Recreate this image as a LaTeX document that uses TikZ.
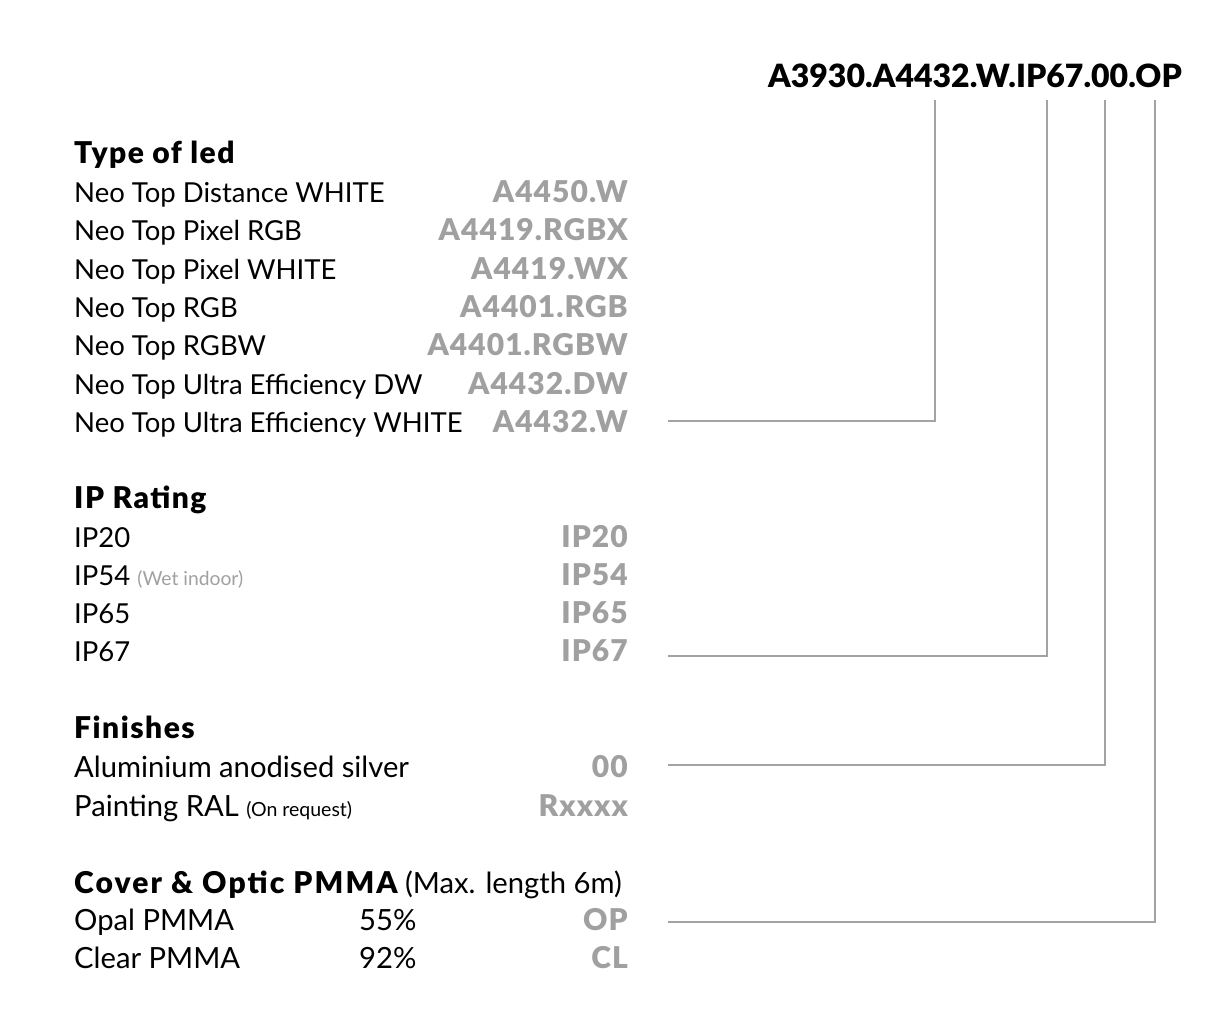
\documentclass[tikz,border=0pt]{standalone}
\usepackage{fontspec}
\setmainfont{Lato}[BoldFont={Lato Black}]
\newfontfamily\headfont{Lato Black}[LetterSpace=5]
\newfontfamily\coverfont{Lato Black}[LetterSpace=7]
\newfontfamily\codefont{Lato Black}[LetterSpace=3.5]
\definecolor{codegray}{HTML}{A0A0A0}
\definecolor{linegray}{HTML}{A3A3A3}
\begin{document}
\begin{tikzpicture}[x=1pt,y=-1pt,
  lbl/.style={anchor=base west,inner sep=0pt,font=\fontsize{27.5}{34}\selectfont},
  lblb/.style={anchor=base west,inner sep=0pt,font=\fontsize{29.2}{34}\selectfont},
  head/.style={anchor=base west,inner sep=0pt,font=\fontsize{30}{34}\headfont},
  code/.style={anchor=base east,inner sep=0pt,text=codegray,font=\fontsize{30}{34}\codefont},
  conn/.style={draw=linegray,line width=2pt}]
\useasboundingbox (0,0) rectangle (1216,1026);
% title code
\node[anchor=base east,inner sep=0pt,font=\fontsize{32}{36}\selectfont\bfseries] (title) at (1182,87) {A3930.A4432.W.IP67.00.OP};
\coordinate (t1) at (935,100);
\coordinate (t2) at (1047,100);
\coordinate (t3) at (1105,100);
\coordinate (t4) at (1155,100);
% Type of led
\node[head] (h1) at (74,163) {Type of led};
\node[lbl] (l1) at (74,202) {Neo Top Distance WHITE};
\node[lbl] (l2) at (74,240) {Neo Top Pixel RGB};
\node[lbl] (l3) at (74,279) {Neo Top Pixel WHITE};
\node[lbl] (l4) at (74,317) {Neo Top RGB};
\node[lbl] (l5) at (74,355) {Neo Top RGBW};
\node[lbl] (l6) at (74,394) {Neo Top Ultra Efficiency DW};
\node[lbl] (l7) at (74,432) {Neo Top Ultra Efficiency WHITE};
\node[code] (c1) at (628,202) {A4450.W};
\node[code] (c2) at (628,240) {A4419.RGBX};
\node[code] (c3) at (628,279) {A4419.WX};
\node[code] (c4) at (628,317) {A4401.RGB};
\node[code] (c5) at (628,355) {A4401.RGBW};
\node[code] (c6) at (628,394) {A4432.DW};
\node[code] (c7) at (628,432) {A4432.W};
% IP Rating
\node[head] (h2) at (74,508) {IP Rating};
\node[lbl] (i1) at (74,547) {IP20};
\node[lbl] (i2) at (74,585) {IP54 {\fontsize{19.3}{22}\selectfont\color{codegray}(Wet indoor)}};
\node[lbl] (i3) at (74,623) {IP65};
\node[lbl] (i4) at (74,661) {IP67};
\node[code] (p1) at (628,547) {IP20};
\node[code] (p2) at (628,585) {IP54};
\node[code] (p3) at (628,623) {IP65};
\node[code] (p4) at (628,661) {IP67};
% Finishes
\node[head] (h3) at (74,738) {Finishes};
\node[lblb] (f1) at (74,777) {Aluminium anodised silver};
\node[lblb] (f2) at (74,816) {Painting RAL {\fontsize{19.5}{22}\selectfont(On request)}};
\node[code] (g1) at (628,777) {00};
\node[code] (g2) at (628,816) {Rxxxx};
% Cover
\node[lblb] (h4) at (74,893) {{\fontsize{30}{34}\coverfont Cover \& Optic PMMA} (Max. length 6m)};
\node[lblb] (o1) at (74,930) {Opal PMMA};
\node[lblb] (o2) at (74,968) {Clear PMMA};
\node[lblb] (q1) at (359,930) {55\%};
\node[lblb] (q2) at (359,968) {92\%};
\node[code] (r1) at (628,930) {OP};
\node[code] (r2) at (628,968) {CL};
% connectors
\coordinate (s1) at (668,421);
\coordinate (s2) at (668,656);
\coordinate (s3) at (668,765);
\coordinate (s4) at (668,922);
\draw[conn] (s1) -| (t1);
\draw[conn] (s2) -| (t2);
\draw[conn] (s3) -| (t3);
\draw[conn] (s4) -| (t4);
\end{tikzpicture}
\end{document}
